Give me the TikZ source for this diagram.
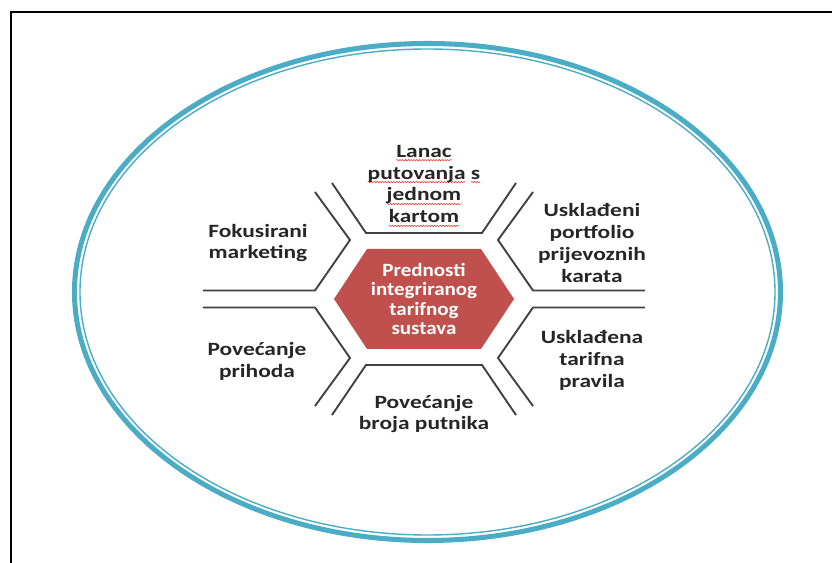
\documentclass[tikz,border=0pt]{standalone}
\usepackage{fontspec}
\setmainfont{Carlito}
\newfontfamily\cellfont[FakeStretch=1.25]{Carlito}
\newfontfamily\hubfont[FakeStretch=1.12]{Carlito}
\usetikzlibrary{decorations.pathmorphing}
\definecolor{ringblue}{HTML}{4BACC6}
\definecolor{hubred}{HTML}{C0504D}
\definecolor{spellred}{HTML}{E8403A}
\newcommand\spellwave[1]{\setbox0=\hbox{#1}\leavevmode\rlap{\tikz[overlay, baseline=0pt]\draw[spellred, line width=0.5pt, decorate, decoration={snake, amplitude=0.6pt, segment length=2.4pt}] (0pt,-2.6pt) -- (\wd0,-2.6pt);}\box0\relax}

\begin{document}
\begin{tikzpicture}[x=0.03cm, y=0.03cm]

	\def\gap{8.5}
	\def\ringw{353}
	\def\ringh{248.5}

	% Colours
	\colorlet{wallcolor}{black!75}
	\colorlet{textcolor}{black!85}

	% Styles
	\tikzstyle{wall}=[line width=1.6pt, draw=wallcolor, line join=miter]
	\tikzstyle{cell}=[font=\cellfont\bfseries\fontsize{16}{18.7}\selectfont, align=center, text=textcolor, inner sep=0pt]
	\tikzstyle{hub}=[font=\hubfont\bfseries\fontsize{16}{16.4}\selectfont, align=center, text=white, inner sep=0pt]

	\useasboundingbox (-424,-264) rectangle (408,299);

	% Frame
	\draw[line width=1.8pt] (-413,-264) -- (-413,287) -- (408,287);

	% Ring
	\draw[ringblue, line width=4.3pt] (3.5,7) ellipse [x radius=\ringw, y radius=\ringh];
	\draw[ringblue, line width=1.2pt] (3.5,7) ellipse [x radius=\ringw-5.5, y radius=\ringh-5.5];

	% Walls between the cells
	\draw[wall] (-221,\gap) -- (-109,\gap) -- (-74,59) -- (-109,107);
	\draw[wall] (221,\gap) -- (109,\gap) -- (74,59) -- (109,107);
	\draw[wall] (-221,-\gap) -- (-109,-\gap) -- (-74,-59) -- (-109,-107);
	\draw[wall] (221,-\gap) -- (109,-\gap) -- (74,-59) -- (109,-107);
	\draw[wall] (-92,116) -- (-58,66) -- (58,66) -- (92,116);
	\draw[wall] (-92,-116) -- (-58,-66) -- (58,-66) -- (92,-116);

	% Hub
	\fill[hubred] (-90,0) -- (-57,50) -- (57,50) -- (90,0) -- (57,-50) -- (-57,-50) -- cycle;
	\node[hub] (hub) at (0,0) {Prednosti\\integriranog\\tarifnog\\sustava};

	% Cells
	\node[cell] (chain) at (0,115) {\spellwave{Lanac}\\\spellwave{putovanja} \spellwave{s}\\\spellwave{jednom}\\\spellwave{kartom}};
	\node[cell] (focus) at (-166,56) {Fokusirani\\marketing};
	\node[cell] (revenue) at (-167,-62) {Povećanje\\prihoda};
	\node[cell] (portfolio) at (168,56) {Usklađeni\\portfolio\\prijevoznih\\karata};
	\node[cell] (rules) at (168,-61) {Usklađena\\tarifna\\pravila};
	\node[cell] (riders) at (0,-115) {Povećanje\\broja putnika};

\end{tikzpicture}
\end{document}
